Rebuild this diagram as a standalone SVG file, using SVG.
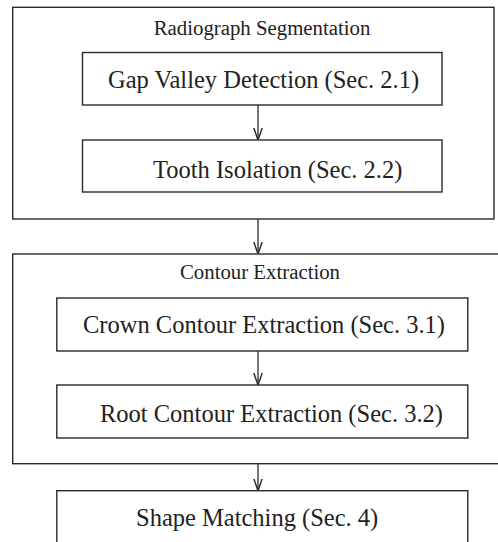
<svg xmlns="http://www.w3.org/2000/svg" width="498" height="542" viewBox="0 0 498 542">
<style>
.box{fill:none;stroke:#2a2a2a;stroke-width:1.4}
.lbl{font-family:"Liberation Serif","Times New Roman",serif;font-size:24.5px;fill:#222}
.ttl{font-family:"Liberation Serif","Times New Roman",serif;font-size:20.8px;fill:#222;text-anchor:middle}
.edge{fill:none;stroke:#2a2a2a;stroke-width:1.3}
</style>
<defs>
<marker id="v" viewBox="0 0 10 10" refX="10" refY="5" markerWidth="12" markerHeight="12" markerUnits="userSpaceOnUse" orient="auto">
<path d="M0,1.5 L10,5 L0,8.5" fill="none" stroke="#2a2a2a" stroke-width="1.2"/>
</marker>
</defs>
<g id="seg">
<rect class="box" x="12.7" y="7.3" width="481.3" height="211.7"/>
<text class="ttl" x="262" y="35">Radiograph Segmentation</text>
</g>
<g id="gap">
<rect class="box" x="82.5" y="52.5" width="359.5" height="52.5"/>
<text class="lbl" x="108" y="88">Gap Valley Detection (Sec. 2.1)</text>
</g>
<g id="tooth">
<rect class="box" x="82.5" y="140" width="359.5" height="52"/>
<text class="lbl" x="153" y="178">Tooth Isolation (Sec. 2.2)</text>
</g>
<g id="contour">
<rect class="box" x="12.7" y="254" width="490" height="209.7"/>
<text class="ttl" x="260" y="279">Contour Extraction</text>
</g>
<g id="crown">
<rect class="box" x="56.8" y="298" width="411" height="53"/>
<text class="lbl" x="83" y="333">Crown Contour Extraction (Sec. 3.1)</text>
</g>
<g id="root">
<rect class="box" x="56.8" y="385" width="411" height="53"/>
<text class="lbl" x="100" y="422">Root Contour Extraction (Sec. 3.2)</text>
</g>
<g id="shape">
<rect class="box" x="56.8" y="490.7" width="411" height="60"/>
<text class="lbl" x="136" y="526">Shape Matching (Sec. 4)</text>
</g>
<g id="connectors">
<line class="edge" x1="258" y1="105" x2="258" y2="140" marker-end="url(#v)"/>
<line class="edge" x1="258" y1="219" x2="258" y2="254" marker-end="url(#v)"/>
<line class="edge" x1="258" y1="351" x2="258" y2="385" marker-end="url(#v)"/>
<line class="edge" x1="258" y1="463.7" x2="258" y2="490.7" marker-end="url(#v)"/>
</g>
</svg>
